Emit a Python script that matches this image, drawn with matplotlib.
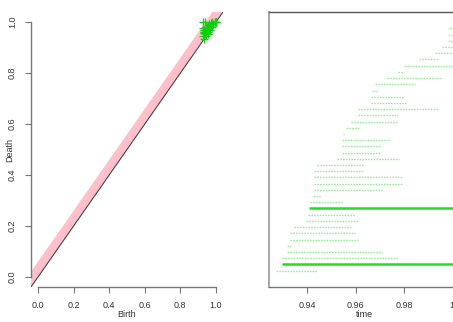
import numpy as np
import matplotlib
matplotlib.use("Agg")
import matplotlib.pyplot as plt

plt.rcParams['font.family'] = ['Liberation Sans Narrow', 'Liberation Sans', 'DejaVu Sans']

# barcode intervals (birth, death), bottom bar first
birth = [0.9274, 0.9298, 0.9298, 0.9319, 0.9319, 0.9331, 0.9331, 0.9347, 0.9396, 0.9404,
         0.9408, 0.9412, 0.9424, 0.9428, 0.9428, 0.9428, 0.9428, 0.9441, 0.9522, 0.9542,
         0.9542, 0.9542, 0.9550, 0.9559, 0.9583, 0.9611, 0.9611, 0.9664, 0.9664, 0.9668,
         0.9681, 0.9729, 0.9774, 0.9798, 0.9859, 0.9928, 0.9957, 0.9981, 0.9985, 0.9985]
death = [0.9441, 1.0000, 0.9774, 0.9709, 0.9335, 0.9611, 0.9599, 0.9579, 0.9611, 0.9595,
         1.0000, 0.9550, 0.9457, 0.9709, 0.9794, 0.9794, 0.9632, 0.9632, 0.9778, 0.9705,
         0.9705, 0.9742, 0.9554, 0.9616, 0.9774, 0.9774, 0.9941, 0.9807, 0.9794, 0.9693,
         0.9843, 0.9949, 0.9798, 1.0000, 0.9941, 1.0000, 1.0000, 1.0000, 1.0000, 1.0000]
# the two long-lived features are drawn bold
bold = [2, 11]

band = 0.06
diag_ticks = [0.0, 0.2, 0.4, 0.6, 0.8, 1.0]
time_ticks = [0.94, 0.96, 0.98, 1.0]
time_labels = ["0.94", "0.96", "0.98", "1."]

W, H = 453, 322
fig = plt.figure(figsize=(W / 100, H / 100), dpi=100)
txt = "#333333"
axc = "#777777"

# ---- persistence diagram ----
ax1 = fig.add_axes([31 / W, (H - 287) / H, (223 - 31) / W, (287 - 12) / H])
ax1.set_xlim(-0.04, 1.04)
ax1.set_ylim(-0.04, 1.04)
ax1.fill([-0.2, 1.3, 1.3, -0.2], [-0.2, 1.3, 1.3 + band, -0.2 + band],
         color="#FFC0CB", lw=0, zorder=1)
ax1.plot([-0.2, 1.3], [-0.2, 1.3], color="#444444", lw=0.8, zorder=2)
ax1.scatter(birth, death, marker="+", s=30, color="#11CC11", linewidths=0.9, zorder=3)
for s in ["top", "right"]:
    ax1.spines[s].set_visible(False)
ax1.spines["left"].set_bounds(0, 1)
ax1.spines["bottom"].set_bounds(0, 1)
for s in ["left", "bottom"]:
    ax1.spines[s].set_color(axc)
    ax1.spines[s].set_linewidth(1.0)
ax1.set_xticks(diag_ticks)
ax1.set_yticks(diag_ticks)
ax1.set_xticklabels([f"{t:.1f}" for t in diag_ticks])
ax1.set_yticklabels([f"{t:.1f}" for t in diag_ticks], rotation=90, va="center")
ax1.tick_params(colors=axc, labelcolor=txt, labelsize=6.5, length=4, width=0.8, pad=6)
ax1.set_xlabel("Birth", fontsize=6.5, color=txt)
ax1.set_ylabel("Death", fontsize=6.5, color=txt)
ax1.xaxis.set_label_coords(0.5, -0.083)
ax1.yaxis.set_label_coords(-0.085, 0.5)

# ---- barcode ----
ax2 = fig.add_axes([269 / W, (H - 287) / H, (460 - 269) / W, (287 - 12) / H])
n = len(birth)
ax2.set_xlim(0.9244, 1.0029)
ax2.set_ylim(-0.04 * (n + 1), (n + 1) * 1.04)
for i, (b, d) in enumerate(zip(birth, death)):
    y = i + 1
    if y in bold:
        ax2.plot([b, d], [y, y], color="#22DD22", lw=1.8, solid_capstyle="butt")
    else:
        ax2.plot([b, d], [y, y], color="#9BEB9B", lw=1.0, linestyle=(0, (1.2, 0.8)))
ax2.spines["right"].set_visible(False)
ax2.spines["top"].set_color("#555555")
ax2.spines["top"].set_linewidth(1.0)
ax2.spines["left"].set_color("#AAAAAA")
ax2.spines["left"].set_linewidth(1.5)
ax2.spines["bottom"].set_color(axc)
ax2.spines["bottom"].set_linewidth(1.0)
ax2.set_yticks([])
ax2.set_xticks(time_ticks)
ax2.set_xticklabels(time_labels)
ax2.tick_params(colors=axc, labelcolor=txt, labelsize=6.5, length=4, width=0.8, pad=6)
ax2.set_xlabel("time", fontsize=6.5, color=txt)
ax2.xaxis.set_label_coords(0.5, -0.083)

fig.savefig("out.png", dpi=100)
